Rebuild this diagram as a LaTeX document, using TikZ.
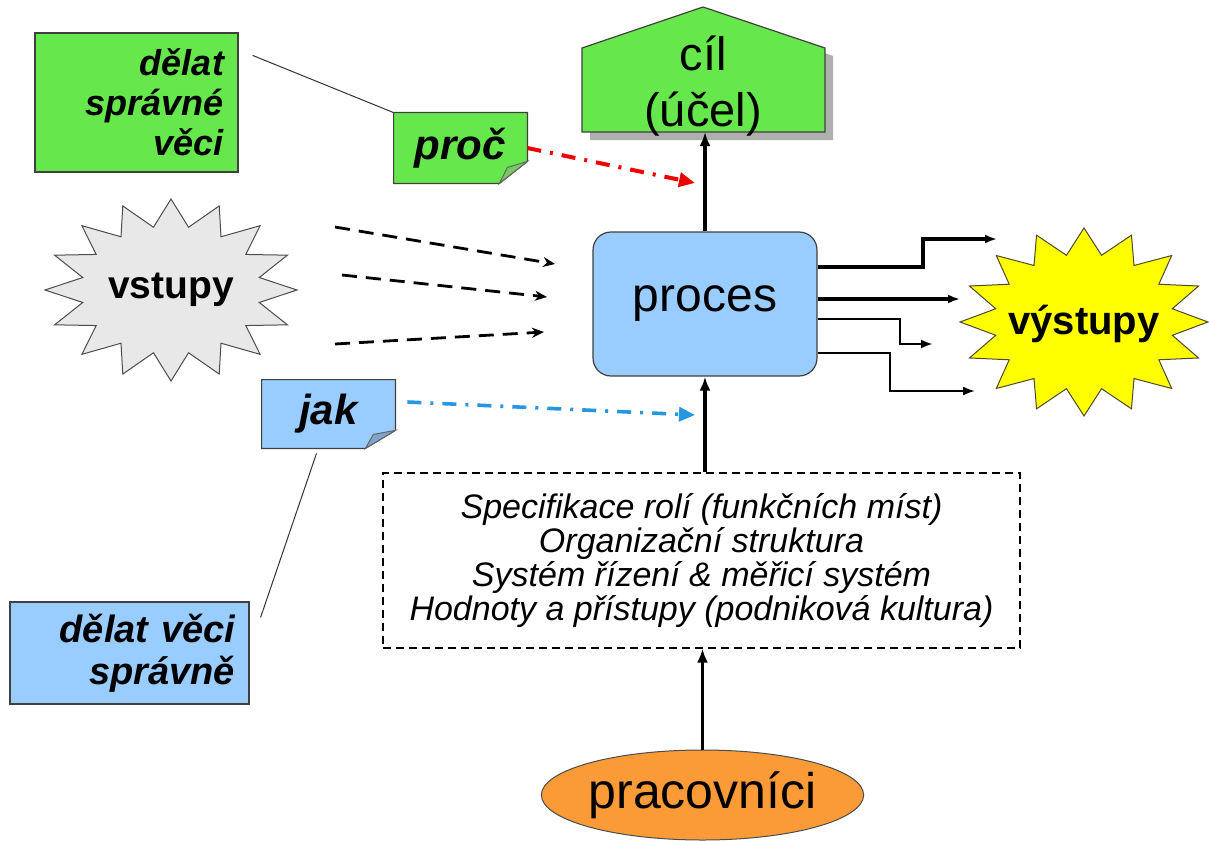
\documentclass[tikz,border=0pt]{standalone}
\usepackage{fontspec}
\setmainfont{Liberation Sans}
\usetikzlibrary{arrows.meta,positioning,calc,backgrounds,shapes.geometric}

\definecolor{cilgreen}{RGB}{102,232,76}
\definecolor{foldgreen}{RGB}{120,200,100}
\definecolor{procblue}{RGB}{153,204,255}
\definecolor{foldblue}{RGB}{125,165,205}
\definecolor{ingray}{RGB}{232,232,232}
\definecolor{outyellow}{RGB}{255,255,0}
\definecolor{workorange}{RGB}{250,155,55}
\definecolor{howblue}{RGB}{40,150,225}
\definecolor{whyred}{RGB}{240,0,0}
\definecolor{shadegray}{RGB}{175,175,175}

\tikzset{
  frame/.style={draw=black!75, line width=0.6pt},
  saybox/.style={frame, inner xsep=7pt, inner ysep=0pt, align=right,
    font=\bfseries\itshape\fontsize{18}{20}\selectfont},
  notetext/.style={inner sep=0pt, minimum width=66.5pt, minimum height=35pt,
    font=\bfseries\itshape\fontsize{21}{24}\selectfont},
  fold/.style={draw=black!60, line width=0.5pt},
  spark/.style={draw=black!70, line width=0.5pt},
  hint/.style={black!80, line width=0.5pt},
  upflow/.style={line width=1.6pt, -{Latex[length=7pt,width=5.5pt]}},
  inflow/.style={line width=1.4pt, dash pattern=on 7.5pt off 4.5pt, -{Stealth[length=6pt,width=5pt]}},
  outflow/.style={-{Latex[length=6pt,width=4.5pt]}},
  dashdot/.style={line width=2pt, dash pattern=on 7pt off 4.5pt on 1.5pt off 4.5pt}
}

\begin{document}
\begin{tikzpicture}[x=0.5pt, y=-0.5pt]
    \useasboundingbox (0,0) rectangle (1209,840);

    % Goal: house shaped box with its shadow
    \fill[shadegray] (590,140) -- (590,56) -- (711,15) -- (833,56) -- (833,140) -- cycle;
    \filldraw[frame, fill=cilgreen] (582,132) -- (582,48) -- (703,7) -- (825,48) -- (825,132) -- cycle;
    \node[align=center, font=\fontsize{23.5}{28}\selectfont] (cil) at (703,86) {cíl\\(účel)};
    \coordinate (cilbase) at (703,132);

    % Process
    \node[frame, rounded corners=9pt, fill=procblue, minimum width=112pt, minimum height=72pt,
      font=\fontsize{24}{28}\selectfont] (proces) at (705,304) {proces};

    % Inputs star
    \filldraw[spark, fill=ingray, shift={(171,290)}] (0:126 and 91)
      \foreach \a in {0,22.5,...,337.5} { -- (\a+11.25:90 and 64) -- (\a+22.5:126 and 91) } -- cycle;
    \node[font=\bfseries\fontsize{19.5}{22}\selectfont] (vstupy) at (171,290) {vstupy};

    % Outputs star
    \filldraw[draw=black!60!olive, line width=0.5pt, fill=outyellow, shift={(1084,322)}] (0:124 and 94)
      \foreach \a in {0,22.5,...,337.5} { -- (\a+11.25:90 and 68) -- (\a+22.5:124 and 94) } -- cycle;
    \node[font=\bfseries\fontsize{20}{22}\selectfont] (vystupy) at (1084,324) {výstupy};

    % Notes "proč" and "jak"
    \node[notetext] (proc) at (460.5,148) {proč};
    \node[notetext, minimum height=34pt] (jak) at (328.5,414) {jak};
    \begin{scope}[on background layer]
        \filldraw[frame, fill=cilgreen] (proc.north west) -- (proc.north east) -- ([yshift=11pt]proc.south east)
          -- ([xshift=-14pt]proc.south east) -- (proc.south west) -- cycle;
        \filldraw[frame, fill=procblue] (jak.north west) -- (jak.north east) -- ([yshift=9pt]jak.south east)
          -- ([xshift=-15pt]jak.south east) -- (jak.south west) -- cycle;
    \end{scope}
    \filldraw[fold, fill=foldgreen] ([yshift=11pt]proc.south east) -- ([xshift=-14pt]proc.south east)
      -- ([xshift=-10pt,yshift=8pt]proc.south east) -- cycle;
    \filldraw[fold, fill=foldblue] ([yshift=9pt]jak.south east) -- ([xshift=-15pt]jak.south east)
      -- ([xshift=-11pt,yshift=7pt]jak.south east) -- cycle;

    % Explanations
    \node[saybox, fill=cilgreen, minimum width=101.5pt, minimum height=69.5pt, text width=87.5pt]
      (whybox) at (136.5,102.5) {dělat\\správné\\věci};
    \node[saybox, fill=procblue, minimum width=119.5pt, minimum height=51pt, text width=105.5pt,
      font=\bfseries\itshape\fontsize{19}{21}\selectfont] (howbox) at (129.5,653) {dělat věci\\správně};
    \draw[hint] ($(whybox.north east)+(7pt,-11.5pt)$) -- (proc.north west);
    \draw[hint] ($(jak.south)+(-6pt,-2.5pt)$) -- ($(howbox.north east)+(5.5pt,-8pt)$);

    % Roles, structure, systems, culture
    \node[draw, line width=0.6pt, dash pattern=on 4pt off 2.5pt, minimum width=318.5pt, minimum height=87.5pt,
      align=center, font=\itshape\fontsize{17}{17}\selectfont] (roles) at (701.5,560.5)
      {Specifikace rolí (funkčních míst)\\Organizační struktura\\Systém řízení \& měřicí systém\\Hodnoty a přístupy (podniková kultura)};

    % Workers
    \node[ellipse, draw=black!70, line width=0.5pt, fill=workorange, inner sep=0pt, minimum width=132pt,
      minimum height=45pt, font=\fontsize{25}{28}\selectfont] (pracovnici) at (702.5,795) {pracovníci};

    % Vertical flow
    \draw[upflow] (proces.north) -- (proces.north |- cilbase);
    \draw[upflow] (proces.south |- roles.north) -- (proces.south);
    \draw[upflow] (pracovnici.north) -- (pracovnici.north |- roles.south);

    % Inputs into process
    \coordinate (in1a) at (335,227);
    \coordinate (in1b) at (555,264);
    \coordinate (in2a) at (342,275);
    \coordinate (in2b) at (547,297);
    \coordinate (in3a) at (335,344);
    \coordinate (in3b) at (544,332);
    \draw[inflow] (in1a) -- (in1b);
    \draw[inflow] (in2a) -- (in2b);
    \draw[inflow] (in3a) -- (in3b);

    % Why and how
    \coordinate (whyend) at (695,183);
    \coordinate (howend) at (695,415);
    \draw[dashdot, whyred, -{Triangle[length=8pt,width=7pt]}] (proc.east) -- (whyend);
    \draw[dashdot, howblue, line width=1.8pt, -{Triangle[length=8pt,width=7pt]}] ($(jak.east)+(6pt,6pt)$) -- (howend);

    % Outputs
    \coordinate (out1) at (997,239);
    \coordinate (out2) at (960,299);
    \coordinate (out3) at (933,344);
    \coordinate (out4) at (975,391);
    \draw[outflow, line width=1.6pt] (proces.east |- 0,267) -- (923,267) |- (out1);
    \draw[outflow, line width=1.6pt] (proces.east |- out2) -- (out2);
    \draw[outflow, line width=1.2pt] (proces.east |- 0,319) -- (900,319) |- (out3);
    \draw[outflow, line width=1pt] (proces.east |- 0,353) -- (890,353) |- (out4);
\end{tikzpicture}
\end{document}
